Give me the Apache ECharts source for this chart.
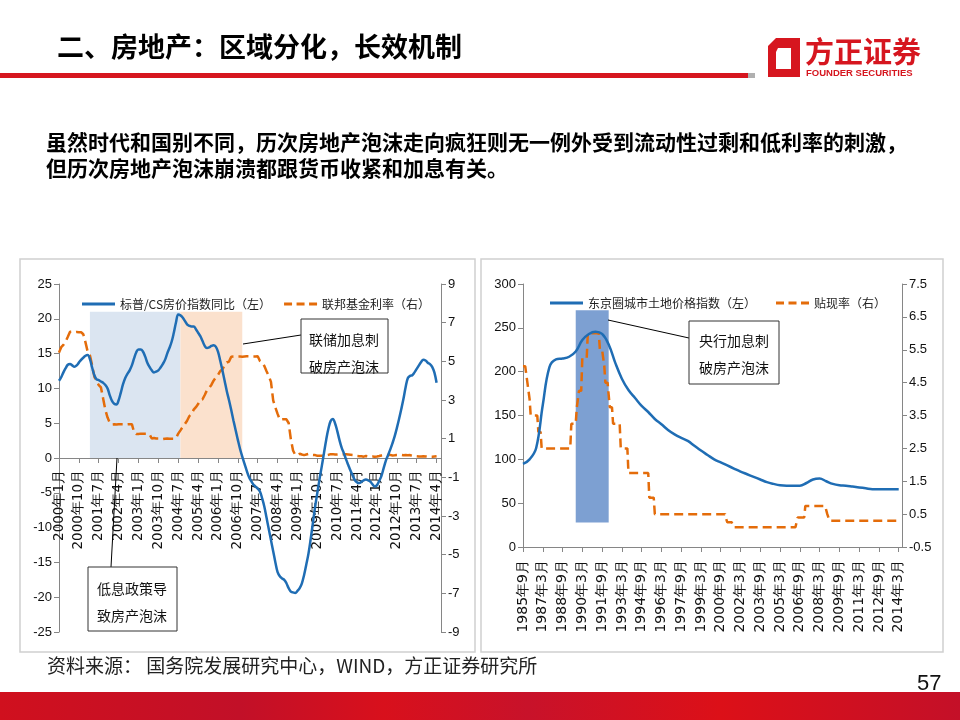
<!DOCTYPE html>
<html><head><meta charset="utf-8">
<script src="https://cdn.jsdelivr.net/npm/echarts/dist/echarts.min.js"></script>
<style>html,body{margin:0;padding:0;background:#fff;}#c{width:960px;height:720px;}</style>
</head><body><div id="c"></div>
<script>
// ---------- Left chart data (monthly, 2000年1月 – 2014年4月) ----------
const spcsYoY = [
11.1,11.6,12.3,12.9,13.4,13.5,13.3,13.1,13.3,13.7,14.1,14.4,
14.7,14.8,14.2,13.0,11.9,11.3,11.2,11.0,10.8,10.5,10.0,9.0,
8.2,7.8,7.7,8.3,9.4,10.6,11.5,12.1,12.6,13.3,14.3,15.2,
15.6,15.6,15.3,14.6,13.7,13.1,12.6,12.3,12.4,12.6,13.0,13.5,
14.1,15.0,15.8,16.7,18.0,19.5,20.6,20.5,20.2,19.7,19.2,19.0,
18.9,18.9,18.5,18.0,17.5,16.8,16.1,15.8,15.9,16.1,16.2,16.0,
15.3,14.0,12.6,11.1,9.6,8.3,6.9,5.4,4.0,2.6,1.3,0.2,
-0.8,-1.8,-2.7,-3.3,-3.8,-4.1,-4.4,-4.8,-5.8,-7.0,-8.6,-10.2,
-11.8,-13.4,-15.0,-16.4,-17.0,-17.3,-17.5,-18.0,-18.7,-19.2,-19.3,-19.4,
-19.1,-18.7,-18.0,-16.8,-15.3,-13.7,-11.6,-9.3,-7.0,-5.0,-3.0,-1.2,
0.7,2.6,4.2,5.3,5.6,5.0,3.9,2.6,1.5,0.7,-0.2,-1.0,
-1.8,-2.5,-3.2,-3.5,-3.6,-3.4,-3.2,-3.1,-3.2,-3.4,-3.8,-4.1,
-3.9,-3.3,-2.6,-1.5,-0.4,0.4,1.2,2.1,3.1,4.3,5.6,7.0,
8.5,10.2,11.5,11.8,11.9,12.3,12.8,13.3,13.8,14.1,14.0,13.7,
13.5,13.1,12.3,10.8
];
const fedFunds = [
5.45,5.73,5.85,6.02,6.27,6.53,6.54,6.50,6.52,6.51,6.51,6.40,
5.98,5.49,5.31,4.80,4.21,3.97,3.77,3.65,3.07,2.49,2.09,1.82,
1.73,1.74,1.73,1.75,1.75,1.75,1.73,1.74,1.75,1.75,1.34,1.24,
1.24,1.26,1.25,1.26,1.26,1.22,1.01,1.03,1.01,1.01,1.00,0.98,
1.00,1.01,1.00,1.00,1.00,1.03,1.26,1.43,1.61,1.76,1.93,2.16,
2.28,2.50,2.63,2.79,3.00,3.04,3.26,3.50,3.62,3.78,4.00,4.16,
4.29,4.49,4.59,4.79,4.94,4.99,5.24,5.25,5.25,5.25,5.25,5.24,
5.25,5.26,5.26,5.25,5.25,5.25,5.26,5.02,4.94,4.76,4.49,4.24,
3.94,2.98,2.61,2.28,1.98,2.00,2.01,2.00,1.81,0.97,0.39,0.16,
0.15,0.22,0.18,0.15,0.18,0.21,0.16,0.16,0.15,0.12,0.12,0.12,
0.11,0.13,0.16,0.20,0.20,0.18,0.18,0.19,0.19,0.19,0.19,0.18,
0.17,0.16,0.14,0.10,0.09,0.09,0.07,0.10,0.08,0.07,0.08,0.07,
0.08,0.10,0.13,0.14,0.16,0.16,0.16,0.13,0.14,0.16,0.16,0.16,
0.14,0.15,0.14,0.15,0.11,0.09,0.09,0.08,0.08,0.09,0.08,0.09,
0.07,0.07,0.08,0.09
];
const leftShadeBlue = ['2001年3月', '2004年8月'];
const leftShadeOrange = ['2004年8月', '2006年12月'];
const leftShadeTop = 21;

// ---------- Right chart data ----------
// Tokyo-area urban land price index, semiannual (March / September), 1985年9月 – 2014年3月
const tokyoLandIdx = [
94.7,100,113,162,205,214,215,217,223,236,243,245.5,243,231,210,192,179,170,161,154,
146,140,133.5,128.5,124.5,121,115.5,110,105,100,96.5,93,89.5,86,83,80,77,74,72,70.5,
70,70,70,73,77,78,75,72,70.5,70,69,68,67,66,66,66,66,66
];
// BOJ discount rate change points (month, rate %)
const discountRateChanges = [
['1985年9月',5.0],['1986年1月',4.5],['1986年3月',4.0],['1986年4月',3.5],['1986年11月',3.0],
['1987年2月',2.5],['1989年5月',3.25],['1989年10月',3.75],['1989年12月',4.25],['1990年3月',5.25],
['1990年8月',6.0],['1991年7月',5.5],['1991年11月',5.0],['1991年12月',4.5],['1992年4月',3.75],
['1992年7月',3.25],['1993年2月',2.5],['1993年9月',1.75],['1995年4月',1.0],['1995年9月',0.5],
['2001年2月',0.35],['2001年3月',0.25],['2001年9月',0.1],['2006年7月',0.4],['2007年2月',0.75],
['2008年10月',0.5],['2008年12月',0.3]
];
const rightShade = ['1989年9月', '1992年3月'];
const rightShadeLow = 28, rightShadeHigh = 270;

// ---------- categories ----------
const leftMonths = [];
for (let y = 2000; y <= 2014; y++) for (let m = 1; m <= 12; m++) { if (y === 2014 && m > 4) break; leftMonths.push(y + '年' + m + '月'); }
const leftCats = leftMonths.concat([' ', '  ']);
const rightMonths = [];
for (let y = 1985; y <= 2014; y++) for (let m = 1; m <= 12; m++) {
  if (y === 1985 && m < 9) continue; if (y === 2014 && m > 3) break; rightMonths.push(y + '年' + m + '月');
}
const rightCats = rightMonths.concat([' ', '  ', '   ']);

// semiannual -> monthly positions (nulls between)
const tokyoMonthly = rightMonths.map(() => null);
tokyoLandIdx.forEach((v, i) => { tokyoMonthly[i * 6] = v; });
// discount rate monthly (held between change points)
const discountMonthly = [];
{ let k = 0, cur = discountRateChanges[0][1];
  rightMonths.forEach(mn => { if (k < discountRateChanges.length && discountRateChanges[k][0] === mn) { cur = discountRateChanges[k][1]; k++; } discountMonthly.push(cur); }); }

const BLUE = '#1f6db4', ORANGE = '#e46c0a';
const CJK = '"Noto Sans CJK SC", sans-serif';
const DASH_ICON = 'path://M0,0h8v3h-8zM12.5,0h8v3h-8zM25,0h8v3h-8z';
const chart = echarts.init(document.getElementById('c'), null, {renderer: 'canvas'});

const axisLineStyle = {color: '#868686', width: 1};
function yAx(grid, min, max, interval, pos, font) {
  return {type: 'value', gridIndex: grid, min, max, interval, position: pos,
    axisLine: {show: true, lineStyle: axisLineStyle},
    axisTick: {show: true, length: 5, lineStyle: axisLineStyle},
    splitLine: {show: false},
    axisLabel: {color: '#111', fontSize: 13, fontFamily: font, margin: 7}};
}

const option = {
  animation: false,
  backgroundColor: '#fff',
  grid: [
    {left: 59, top: 284, width: 382, height: 348},
    {left: 523, top: 284, width: 379, height: 263}
  ],
  xAxis: [
    {type: 'category', gridIndex: 0, data: leftCats, boundaryGap: false, offset: -174,
     axisLine: {onZero: false, lineStyle: axisLineStyle},
     axisTick: {interval: 8, length: 5, lineStyle: axisLineStyle},
     axisLabel: {interval: 8, rotate: 90, fontSize: 13.5, color: '#111', fontFamily: '"DejaVu Sans", sans-serif', margin: 12}},
    {type: 'category', gridIndex: 1, data: rightCats, boundaryGap: false,
     axisLine: {onZero: false, lineStyle: axisLineStyle},
     axisTick: {interval: 17, length: 5, lineStyle: axisLineStyle},
     axisLabel: {interval: 17, rotate: 90, fontSize: 14, color: '#111', fontFamily: '"DejaVu Sans", sans-serif', margin: 13}}
  ],
  yAxis: [
    yAx(0, -25, 25, 5, 'left', '"Liberation Sans", sans-serif'),
    yAx(0, -9, 9, 2, 'right', '"Liberation Sans", sans-serif'),
    yAx(1, 0, 300, 50, 'left', '"Liberation Sans Narrow", "Liberation Sans", sans-serif'),
    yAx(1, -0.5, 7.5, 1, 'right', '"Liberation Sans Narrow", "Liberation Sans", sans-serif')
  ],
  legend: [
    {data: [{name: '标普/CS房价指数同比（左）', icon: 'rect'}, {name: '联邦基金利率（右）', icon: DASH_ICON}],
     left: 77, top: 293, itemWidth: 33, itemHeight: 3, itemGap: 13,
     textStyle: {fontSize: 12, color: '#222', fontFamily: CJK}},
    {data: [{name: '东京圈城市土地价格指数（左）', icon: 'rect'}, {name: '贴现率（右）', icon: DASH_ICON}],
     left: 545, top: 292, itemWidth: 33, itemHeight: 3, itemGap: 20,
     textStyle: {fontSize: 12, color: '#222', fontFamily: CJK}}
  ],
  series: [
    {name: 'shadeL', type: 'line', xAxisIndex: 0, yAxisIndex: 0, data: [], z: 1, silent: true,
     markArea: {silent: true, data: [
       [{xAxis: leftShadeBlue[0], yAxis: 0, itemStyle: {color: '#dbe5f1'}}, {xAxis: leftShadeBlue[1], yAxis: leftShadeTop}],
       [{xAxis: leftShadeOrange[0], yAxis: 0, itemStyle: {color: '#fbe1cd'}}, {xAxis: leftShadeOrange[1], yAxis: leftShadeTop}]
     ]}},
    {name: '标普/CS房价指数同比（左）', type: 'line', xAxisIndex: 0, yAxisIndex: 0, data: spcsYoY, smooth: 0.4,
     symbol: 'none', z: 3, lineStyle: {color: BLUE, width: 2.5}, itemStyle: {color: BLUE}},
    {name: '联邦基金利率（右）', type: 'line', xAxisIndex: 0, yAxisIndex: 1, data: fedFunds,
     symbol: 'none', z: 2, lineStyle: {color: ORANGE, width: 2.5, type: [10, 5]}, itemStyle: {color: ORANGE}},
    {name: '东京圈城市土地价格指数（左）', type: 'line', xAxisIndex: 1, yAxisIndex: 2, data: tokyoMonthly, connectNulls: true, smooth: 0.4,
     symbol: 'none', z: 3, lineStyle: {color: BLUE, width: 2.5}, itemStyle: {color: BLUE}},
    {name: '贴现率（右）', type: 'line', xAxisIndex: 1, yAxisIndex: 3, data: discountMonthly,
     symbol: 'none', z: 2, lineStyle: {color: ORANGE, width: 2.5, type: [9, 5]}, itemStyle: {color: ORANGE}},
    {name: 'shadeR', type: 'line', xAxisIndex: 1, yAxisIndex: 2, data: [], z: 10, silent: true,
     markArea: {silent: true, data: [
       [{xAxis: rightShade[0], yAxis: rightShadeLow, itemStyle: {color: 'rgba(92,136,199,0.8)'}}, {xAxis: rightShade[1], yAxis: rightShadeHigh}]
     ]}}
  ],
  graphic: [
    // header
    {type: 'text', left: 57, top: 33, style: {text: '二、房地产：区域分化，长效机制', font: 'bold 27px ' + CJK, fill: '#000'}},
    {type: 'rect', shape: {x: 0, y: 73, width: 748, height: 5}, style: {fill: '#d6161f'}},
    {type: 'rect', shape: {x: 748, y: 73, width: 7, height: 5}, style: {fill: '#b0b0b0'}},
    {type: 'polygon', shape: {points: [[776,38],[800,38],[800,77],[768,77],[768,46]]}, style: {fill: '#d6161f'}},
    {type: 'polygon', shape: {points: [[778,48],[791,48],[791,69],[776,69],[776,52]]}, style: {fill: '#fff'}},
    {type: 'text', left: 805, top: 37, style: {text: '方正证券', font: 'bold 29px ' + CJK, fill: '#d6161f'}},
    {type: 'text', left: 806, top: 68, style: {text: 'FOUNDER SECURITIES', font: 'bold 9.5px "Liberation Sans", sans-serif', fill: '#d6161f'}},
    // subtitle
    {type: 'text', left: 46, top: 129, style: {text: '虽然时代和国别不同，历次房地产泡沫走向疯狂则无一例外受到流动性过剩和低利率的刺激，\n但历次房地产泡沫崩溃都跟货币收紧和加息有关。', font: 'bold 21px ' + CJK, lineHeight: 26, fill: '#000'}},
    // panels
    {type: 'rect', z: -1, shape: {x: 20, y: 259, width: 455, height: 393}, style: {fill: 'none', stroke: '#d0d0d0', lineWidth: 1.5}},
    {type: 'rect', z: -1, shape: {x: 481, y: 259, width: 462, height: 393}, style: {fill: 'none', stroke: '#d0d0d0', lineWidth: 1.5}},
    // annotations
    {type: 'line', z: 50, shape: {x1: 301, y1: 335, x2: 243, y2: 344}, style: {stroke: '#000', lineWidth: 1}},
    {type: 'rect', z: 50, shape: {x: 301, y: 319, width: 87, height: 54}, style: {fill: '#fff', stroke: '#333', lineWidth: 1}},
    {type: 'text', z: 51, left: 309, top: 326, style: {text: '联储加息刺\n破房产泡沫', font: '14px ' + CJK, lineHeight: 27, fill: '#111'}},
    {type: 'line', z: 50, shape: {x1: 111, y1: 567, x2: 117, y2: 458}, style: {stroke: '#000', lineWidth: 1}},
    {type: 'rect', z: 50, shape: {x: 88, y: 567, width: 89, height: 64}, style: {fill: '#fff', stroke: '#333', lineWidth: 1}},
    {type: 'text', z: 51, left: 97, top: 575, style: {text: '低息政策导\n致房产泡沫', font: '14px ' + CJK, lineHeight: 27, fill: '#111'}},
    {type: 'line', z: 50, shape: {x1: 689, y1: 338, x2: 608, y2: 320}, style: {stroke: '#000', lineWidth: 1}},
    {type: 'rect', z: 50, shape: {x: 689, y: 321, width: 90, height: 63}, style: {fill: '#fff', stroke: '#333', lineWidth: 1}},
    {type: 'text', z: 51, left: 699, top: 327, style: {text: '央行加息刺\n破房产泡沫', font: '14px ' + CJK, lineHeight: 27, fill: '#111'}},
    // footer
    {type: 'text', left: 47, top: 656, style: {text: '资料来源： 国务院发展研究中心，WIND，方正证券研究所', font: '19px ' + CJK, fill: '#222'}},
    {type: 'rect', shape: {x: 0, y: 692, width: 960, height: 28}, style: {fill: {type: 'linear', x: 0, y: 0, x2: 1, y2: 0, colorStops: [
      {offset: 0, color: '#d0101e'}, {offset: 0.25, color: '#c21028'}, {offset: 0.4, color: '#d8101c'}, {offset: 0.55, color: '#c8122a'},
      {offset: 0.75, color: '#dc1018'}, {offset: 1, color: '#c41028'}]}}},
    {type: 'text', left: 917, top: 673, style: {text: '57', font: '22px "Liberation Sans Narrow", "Liberation Sans", sans-serif', fill: '#111'}}
  ]
};
chart.setOption(option);
</script></body></html>
